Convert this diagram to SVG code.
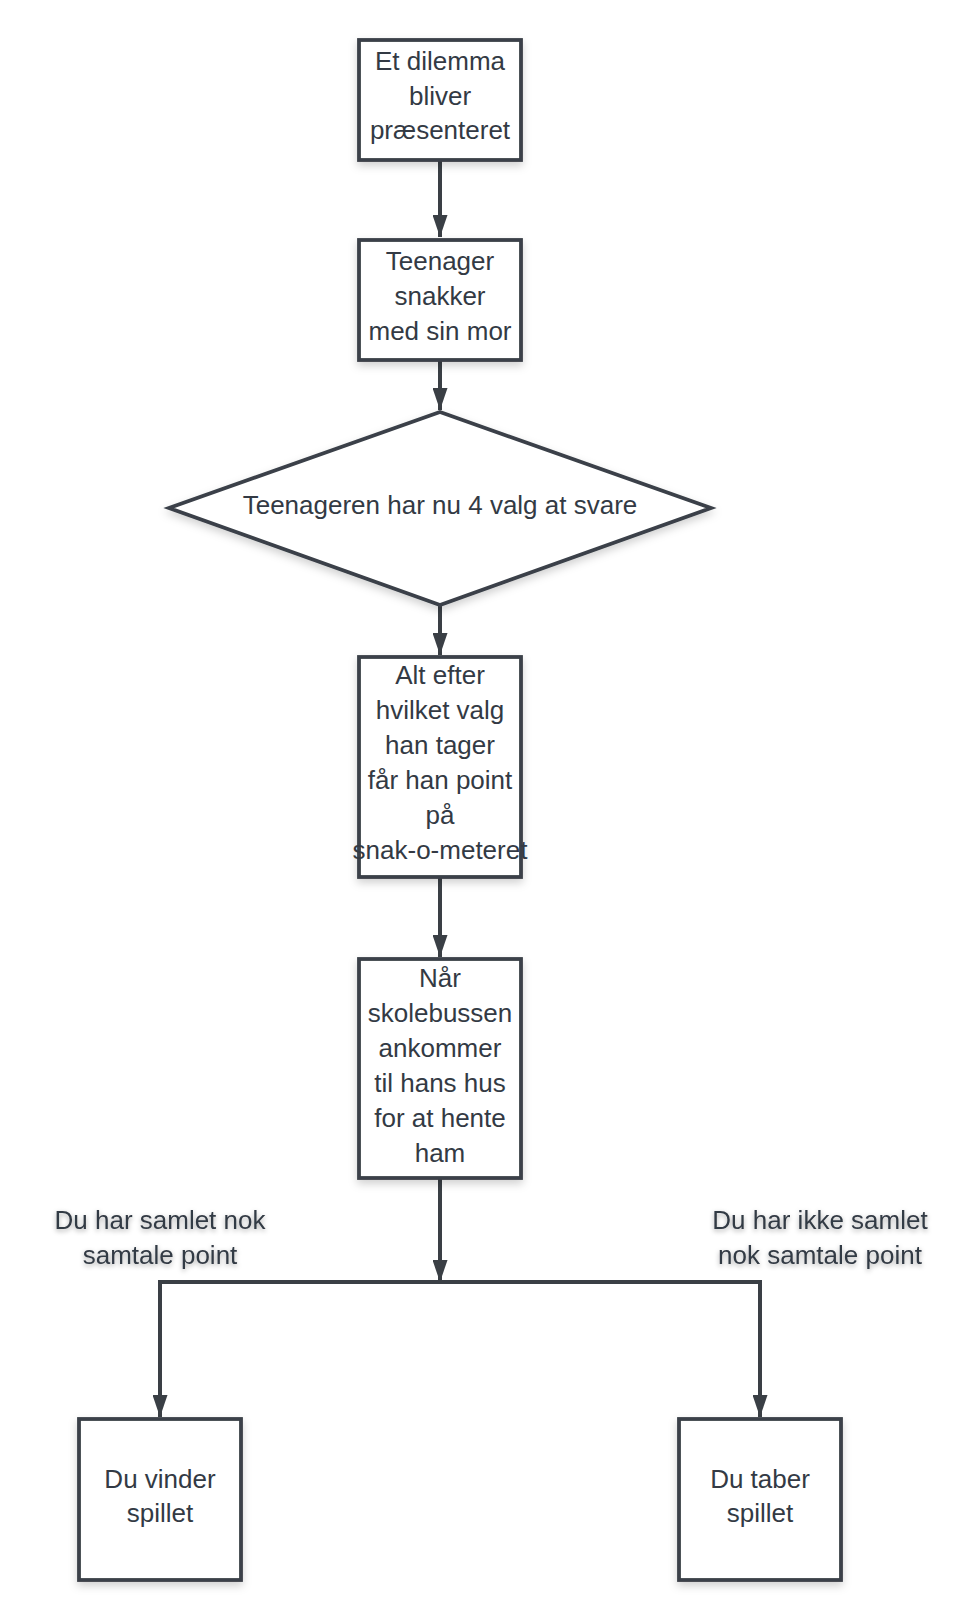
<svg xmlns="http://www.w3.org/2000/svg" width="980" height="1620" viewBox="0 0 980 1620">
<defs>
<filter id="sh" x="-20%" y="-20%" width="140%" height="150%">
<feDropShadow dx="0" dy="4" stdDeviation="4" flood-color="#000" flood-opacity="0.18"/>
</filter>
<filter id="tsh" x="-10%" y="-30%" width="120%" height="180%">
<feDropShadow dx="0" dy="2" stdDeviation="2.5" flood-color="#000" flood-opacity="0.35"/>
</filter>
<marker id="ah" viewBox="0 0 22 15" refX="22" refY="7.5" markerWidth="22" markerHeight="15" markerUnits="userSpaceOnUse" orient="auto">
<path d="M0,0 L22,7.5 L0,15 Z" fill="#3a3f45"/>
</marker>
<style>
.box{fill:#ffffff;stroke:#3a4048;stroke-width:3.8;filter:url(#sh)}
.t{font-family:"Liberation Sans",Arial,sans-serif;font-size:26px;fill:#333a44;text-anchor:middle}
.lbl{font-family:"Liberation Sans",Arial,sans-serif;font-size:26px;fill:#333a44;text-anchor:middle;filter:url(#tsh)}
.c{fill:none;stroke:#3a3f45;stroke-width:4}
</style>
</defs>
<rect width="980" height="1620" fill="#ffffff"/>
<g id="connectors">
<path class="c" d="M440,160 V237" marker-end="url(#ah)"/>
<path class="c" d="M440,360 V410" marker-end="url(#ah)"/>
<path class="c" d="M440,605 V655" marker-end="url(#ah)"/>
<path class="c" d="M440,877 V957" marker-end="url(#ah)"/>
<path class="c" d="M440,1178 V1282" marker-end="url(#ah)"/>
<path class="c" d="M440,1282 H160 V1417" marker-end="url(#ah)"/>
<path class="c" d="M440,1282 H760 V1417" marker-end="url(#ah)"/>
</g>
<g id="n1">
<rect class="box" x="359" y="40" width="162" height="120"/>
<text class="t" x="440" y="70">Et dilemma</text>
<text class="t" x="440" y="105">bliver</text>
<text class="t" x="440" y="139">præsenteret</text>
</g>
<g id="n2">
<rect class="box" x="359" y="240" width="162" height="120"/>
<text class="t" x="440" y="270">Teenager</text>
<text class="t" x="440" y="305">snakker</text>
<text class="t" x="440" y="340">med sin mor</text>
</g>
<g id="n3">
<polygon class="box" points="440,412 711,508 440,605 169,508"/>
<text class="t" x="440" y="514">Teenageren har nu 4 valg at svare</text>
</g>
<g id="n4">
<rect class="box" x="359" y="657" width="162" height="220"/>
<text class="t" x="440" y="684">Alt efter</text>
<text class="t" x="440" y="719">hvilket valg</text>
<text class="t" x="440" y="754">han tager</text>
<text class="t" x="440" y="789">får han point</text>
<text class="t" x="440" y="824">på</text>
<text class="t" x="440" y="859">snak-o-meteret</text>
</g>
<g id="n5">
<rect class="box" x="359" y="959" width="162" height="219"/>
<text class="t" x="440" y="987">Når</text>
<text class="t" x="440" y="1022">skolebussen</text>
<text class="t" x="440" y="1057">ankommer</text>
<text class="t" x="440" y="1092">til hans hus</text>
<text class="t" x="440" y="1127">for at hente</text>
<text class="t" x="440" y="1162">ham</text>
</g>
<g id="label-left">
<text class="lbl" x="160" y="1229">Du har samlet nok</text>
<text class="lbl" x="160" y="1264">samtale point</text>
</g>
<g id="label-right">
<text class="lbl" x="820" y="1229">Du har ikke samlet</text>
<text class="lbl" x="820" y="1264">nok samtale point</text>
</g>
<g id="n6">
<rect class="box" x="79" y="1419" width="162" height="161"/>
<text class="t" x="160" y="1488">Du vinder</text>
<text class="t" x="160" y="1522">spillet</text>
</g>
<g id="n7">
<rect class="box" x="679" y="1419" width="162" height="161"/>
<text class="t" x="760" y="1488">Du taber</text>
<text class="t" x="760" y="1522">spillet</text>
</g>
</svg>
